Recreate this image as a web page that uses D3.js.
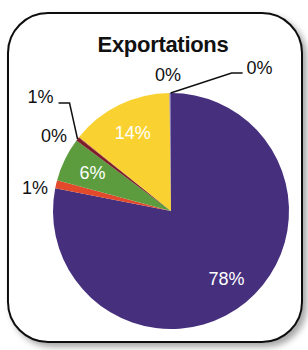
<!DOCTYPE html>
<html>
<head>
<meta charset="utf-8">
<script src="https://cdn.jsdelivr.net/npm/d3@7"></script>
<style>
  body { margin: 0; background: #fff; }
  text { font-family: "Liberation Sans", Arial, sans-serif; }
</style>
</head>
<body>
<div id="chart"></div>
<script>
// Chart data (percent of exports, clockwise from 12 o'clock)
var categories = ["A", "B", "C", "D", "E", "F", "G", "H"];
var values = [78.1, 1.1, 6.0, 0.5, 0.1, 14.0, 0.1, 0.1];
var colors = ["#46307e", "#e24a2b", "#5c9c3e", "#7d1d2b", "#b04a2a", "#f9d232", "#7a68b0", "#5b4a9a"];
var title = "Exportations";

var width = 308,
    height = 350;

var cx = 171, cy = 211, radius = 118;

// which labels sit inside the slices
var inside = [0, 2, 5];

// outside label placement: offset from outer edge point, optional leader line
var outside = {
    1: { dx: -21, dy: 3 },
    3: { dx: -37, dy: -42, leader: [[0, 0], [-8, -36], [-19, -36]] },
    4: { dx: -25, dy: -2 },
    6: { dx: -2, dy: -19 },
    7: { dx: 89, dy: -25, leader: [[0, 0], [61, -20], [72, -20]] }
};

var svg = d3.select("#chart")
    .append("svg")
    .attr("width", width)
    .attr("height", height);

// drop shadow for the frame
var defs = svg.append("defs");
var f = defs.append("filter")
    .attr("id", "shadow")
    .attr("x", "-10%").attr("y", "-10%")
    .attr("width", "130%").attr("height", "130%");
f.append("feDropShadow")
    .attr("dx", 4).attr("dy", 4)
    .attr("stdDeviation", 3)
    .attr("flood-color", "#000")
    .attr("flood-opacity", 0.35);

svg.append("rect")
    .attr("x", 8).attr("y", 13)
    .attr("width", 294).attr("height", 329)
    .attr("rx", 40).attr("ry", 40)
    .attr("fill", "#fff")
    .attr("stroke", "#111")
    .attr("stroke-width", 2)
    .attr("filter", "url(#shadow)");

svg.append("text")
    .attr("x", 163)
    .attr("y", 52)
    .attr("text-anchor", "middle")
    .style("font-size", "22px")
    .style("font-weight", "bold")
    .style("letter-spacing", "-0.3px")
    .attr("fill", "#111")
    .text(title);

var data = categories.map(function(c, i) { return { key: c, value: values[i], i: i }; });

var pie = d3.pie()
    .value(d => d.value)
    .sort(null);

var arcs = pie(data);

var arc = d3.arc()
    .innerRadius(0)
    .outerRadius(radius);

var labelArc = d3.arc()
    .innerRadius(radius * 0.74)
    .outerRadius(radius * 0.74);

var g = svg.append("g")
    .attr("transform", "translate(" + cx + "," + cy + ")");

g.selectAll("path")
    .data(arcs)
    .enter()
    .append("path")
    .attr("d", arc)
    .attr("fill", d => colors[d.data.i]);

var fmt = d => Math.round(d.data.value) + "%";

// labels inside the slices
g.selectAll("text.in")
    .data(arcs.filter(d => inside.indexOf(d.data.i) >= 0))
    .enter()
    .append("text")
    .attr("class", "in")
    .attr("transform", d => "translate(" + labelArc.centroid(d) + ")")
    .attr("text-anchor", "middle")
    .attr("dy", "0.36em")
    .attr("fill", "#fff")
    .style("font-size", "18px")
    .text(fmt);

// labels outside with leader lines
function edgePoint(d) {
    var a = (d.startAngle + d.endAngle) / 2;
    return [radius * Math.sin(a), -radius * Math.cos(a)];
}

var outs = arcs.filter(d => outside[d.data.i]);

g.selectAll("path.leader")
    .data(outs.filter(d => outside[d.data.i].leader))
    .enter()
    .append("path")
    .attr("class", "leader")
    .attr("fill", "none")
    .attr("stroke", "#111")
    .attr("stroke-width", 1.5)
    .attr("d", function(d) {
        var p = edgePoint(d);
        return d3.line()(outside[d.data.i].leader.map(q => [p[0] + q[0], p[1] + q[1]]));
    });

g.selectAll("text.out")
    .data(outs)
    .enter()
    .append("text")
    .attr("class", "out")
    .attr("x", d => edgePoint(d)[0] + outside[d.data.i].dx)
    .attr("y", d => edgePoint(d)[1] + outside[d.data.i].dy)
    .attr("text-anchor", "middle")
    .attr("dy", "0.36em")
    .attr("fill", "#111")
    .style("font-size", "18px")
    .text(fmt);
</script>
</body>
</html>
